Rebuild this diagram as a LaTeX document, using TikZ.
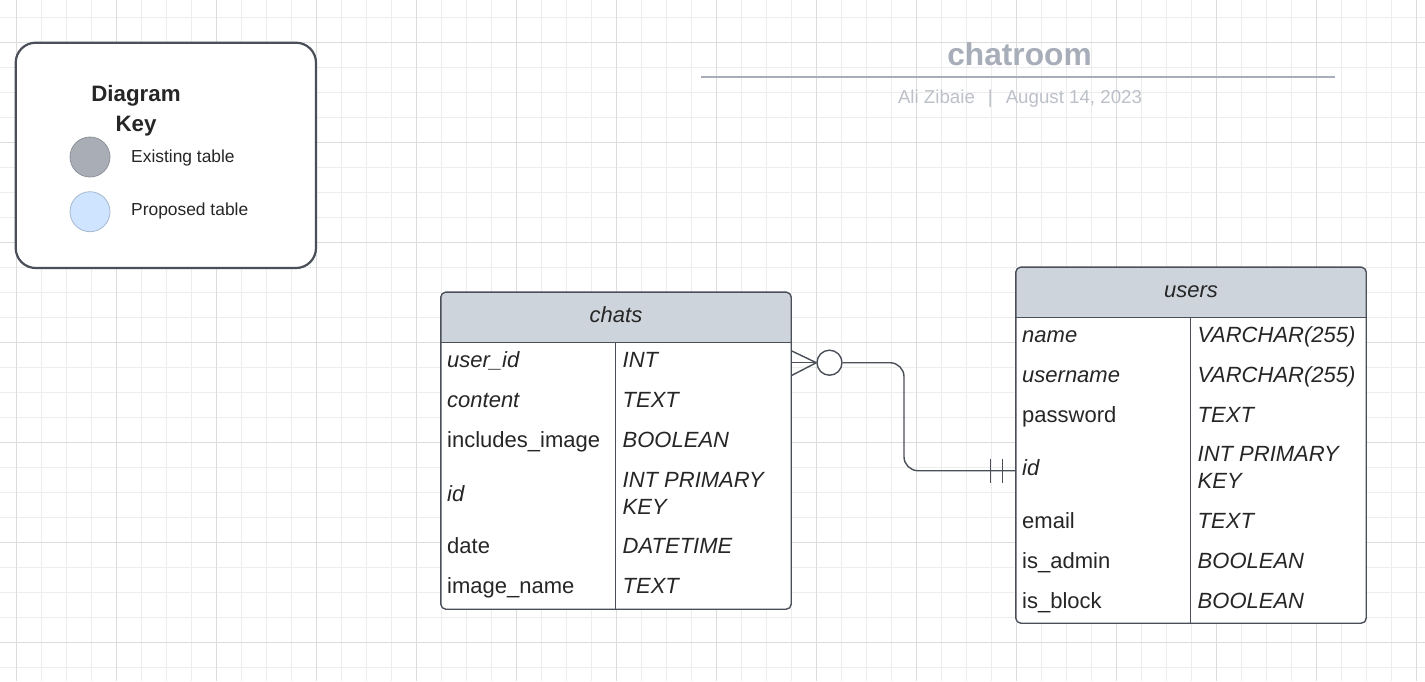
\documentclass[tikz,border=0pt]{standalone}
\usepackage{fontspec}
\setmainfont{Liberation Sans}
\usetikzlibrary{calc}
\definecolor{gridminor}{HTML}{EDEDED}
\definecolor{gridmajor}{HTML}{DCDCDC}
\definecolor{bordc}{HTML}{4A4F59}
\definecolor{hdrc}{HTML}{CED4DC}
\definecolor{txtc}{HTML}{262626}
\definecolor{titlec}{HTML}{A8AEB9}
\definecolor{subc}{HTML}{BCC0C8}
\definecolor{existc}{HTML}{A9ADB5}
\definecolor{existb}{HTML}{8E929A}
\definecolor{propc}{HTML}{CFE4FF}
\definecolor{propb}{HTML}{A6B8D0}
\tikzset{
  minorline/.style={draw=gridminor, line width=1pt},
  majorline/.style={draw=gridmajor, line width=1pt},
  fieldtxt/.style={anchor=base west, inner sep=0pt, text=txtc, font=\fontsize{22}{26.6}\selectfont},
  itfield/.style={fieldtxt, font=\fontsize{22}{26.6}\selectfont\itshape},
  typetxt/.style={fieldtxt, font=\fontsize{22}{26.6}\selectfont\itshape},
  headtxt/.style={anchor=base, inner sep=0pt, text=txtc, font=\fontsize{22}{26.6}\selectfont\itshape},
  tblbox/.style={fill=white, inner sep=0pt, minimum width=350pt, rectangle},
  tblborder/.style={draw=bordc, line width=1.4pt, rounded corners=5pt},
  conn/.style={draw=bordc, line width=1.4pt},
  keytxt/.style={anchor=base west, inner sep=0pt, text=txtc, font=\fontsize{17.4}{21}\selectfont},
  keyhead/.style={anchor=base, inner sep=0pt, text=txtc, font=\fontsize{22.3}{26}\selectfont\bfseries},
}
\begin{document}
\begin{tikzpicture}[x=1pt,y=-1pt]
\useasboundingbox (0,0) rectangle (1425,681);
\fill[white] (0,0) rectangle (1425,681);
% grid
\foreach \i in {0,...,56} {\draw[minorline] ({16.7+25*\i},0) -- ({16.7+25*\i},681);}
\foreach \i in {0,...,26} {\draw[minorline] (0,{17.3+25*\i}) -- (1425,{17.3+25*\i});}
\foreach \i in {0,...,14} {\draw[majorline] ({16.7+100*\i},0) -- ({16.7+100*\i},681);}
\foreach \i in {0,...,6} {\draw[majorline] (0,{42.3+100*\i}) -- (1425,{42.3+100*\i});}

% legend
\node[draw=bordc, line width=2.2pt, rounded corners=20pt, fill=white, minimum width=300.3pt, minimum height=225.3pt, inner sep=0pt] (legend) at (165.85,155.35) {};
\node[keyhead] (keyt1) at (136,101.7) {Diagram};
\node[keyhead] (keyt2) at (136,131) {Key};
\node[circle, draw=existb, line width=0.8pt, fill=existc, minimum size=40pt, inner sep=0pt] (existdot) at (90,157) {};
\node[circle, draw=propb, line width=0.8pt, fill=propc, minimum size=40pt, inner sep=0pt] (propdot) at (90,211.7) {};
\node[keytxt] (existlbl) at (131,162.3) {Existing table};
\node[keytxt] (proplbl) at (131,215.7) {Proposed table};

% title
\node[anchor=base, inner sep=0pt, text=titlec, font=\fontsize{31.7}{36}\selectfont\bfseries] (title) at (1019.5,65.5) {chatroom};
\coordinate (tl) at (701,77);
\coordinate (tr) at (1335,77);
\draw[draw=titlec, line width=2.6pt] (tl) -- (tr);
\node[anchor=base, inner sep=0pt, text=subc, font=\fontsize{18.7}{22}\selectfont] (subtitle) at (1020,103.3) {Ali Zibaie\hspace{13pt}|\hspace{13pt}August 14, 2023};

% chats table
\node[tblbox, minimum height=316.7pt] (chats) at (616,450.65) {};
\begin{scope}
\clip[rounded corners=5pt] (chats.north west) rectangle (chats.south east);
\fill[hdrc] (chats.north west) rectangle (791,342.7);
\end{scope}
\draw[tblborder] (chats.north west) rectangle (chats.south east);
\draw[conn] (441,342.7) -- (791,342.7);
\draw[conn] (615.7,342.7) -- (615.7,609);
\node[headtxt] (chatshead) at (616,322) {chats};
\node[itfield] (c1) at (447,367.3) {user\_id};
\node[itfield] (c2) at (447,407.3) {content};
\node[fieldtxt] (c3) at (447,447.3) {includes\_image};
\node[itfield] (c4) at (447,501) {id};
\node[fieldtxt] (c5) at (447,553.7) {date};
\node[fieldtxt] (c6) at (447,593.3) {image\_name};
\node[typetxt] (ct1) at (622.5,367.3) {INT};
\node[typetxt] (ct2) at (622.5,407.3) {TEXT};
\node[typetxt] (ct3) at (622.5,447.3) {BOOLEAN};
\node[typetxt] (ct4a) at (622.5,487.7) {INT PRIMARY};
\node[typetxt] (ct4b) at (622.5,514.3) {KEY};
\node[typetxt] (ct5) at (622.5,553.7) {DATETIME};
\node[typetxt] (ct6) at (622.5,593.3) {TEXT};

% users table
\node[tblbox, minimum height=355.7pt] (users) at (1191,445.15) {};
\begin{scope}
\clip[rounded corners=5pt] (users.north west) rectangle (users.south east);
\fill[hdrc] (users.north west) rectangle (1366,317.7);
\end{scope}
\draw[tblborder] (users.north west) rectangle (users.south east);
\draw[conn] (1016,317.7) -- (1366,317.7);
\draw[conn] (1190.7,317.7) -- (1190.7,623);
\node[headtxt] (usershead) at (1191,297) {users};
\node[itfield] (u1) at (1022,342.3) {name};
\node[itfield] (u2) at (1022,382.3) {username};
\node[fieldtxt] (u3) at (1022,422.3) {password};
\node[itfield] (u4) at (1022,475) {id};
\node[fieldtxt] (u5) at (1022,528.7) {email};
\node[fieldtxt] (u6) at (1022,568.7) {is\_admin};
\node[fieldtxt] (u7) at (1022,608.7) {is\_block};
\node[typetxt] (ut1) at (1197.5,342.3) {VARCHAR(255)};
\node[typetxt] (ut2) at (1197.5,382.3) {VARCHAR(255)};
\node[typetxt] (ut3) at (1197.5,422.3) {TEXT};
\node[typetxt] (ut4a) at (1197.5,461.7) {INT PRIMARY};
\node[typetxt] (ut4b) at (1197.5,488.3) {KEY};
\node[typetxt] (ut5) at (1197.5,528.7) {TEXT};
\node[typetxt] (ut6) at (1197.5,568.7) {BOOLEAN};
\node[typetxt] (ut7) at (1197.5,608.7) {BOOLEAN};

% connector
\coordinate (rowA) at (0,362.7);
\coordinate (rowB) at (0,470.7);
\coordinate (bend) at (904,0);
\path (chats.east |- rowA) coordinate (crowA);
\path (users.west |- rowB) coordinate (uid);
\node[circle, draw=bordc, line width=1.4pt, fill=white, minimum size=25pt, inner sep=0pt] (opt) at ($(crowA)+(38.3,0)$) {};
\draw[conn] ($(crowA)+(0,-12)$) -- (opt.west);
\draw[conn] ($(crowA)+(0,13)$) -- (opt.west);
\draw[conn] (crowA) -- (opt.west);
\draw[conn, rounded corners=14pt] (opt.east) -| (bend |- uid) -- (uid);
\draw[conn] ($(uid)+(-25.3,-12)$) -- ++(0,24);
\draw[conn] ($(uid)+(-13.3,-12)$) -- ++(0,24);
\end{tikzpicture}
\end{document}
